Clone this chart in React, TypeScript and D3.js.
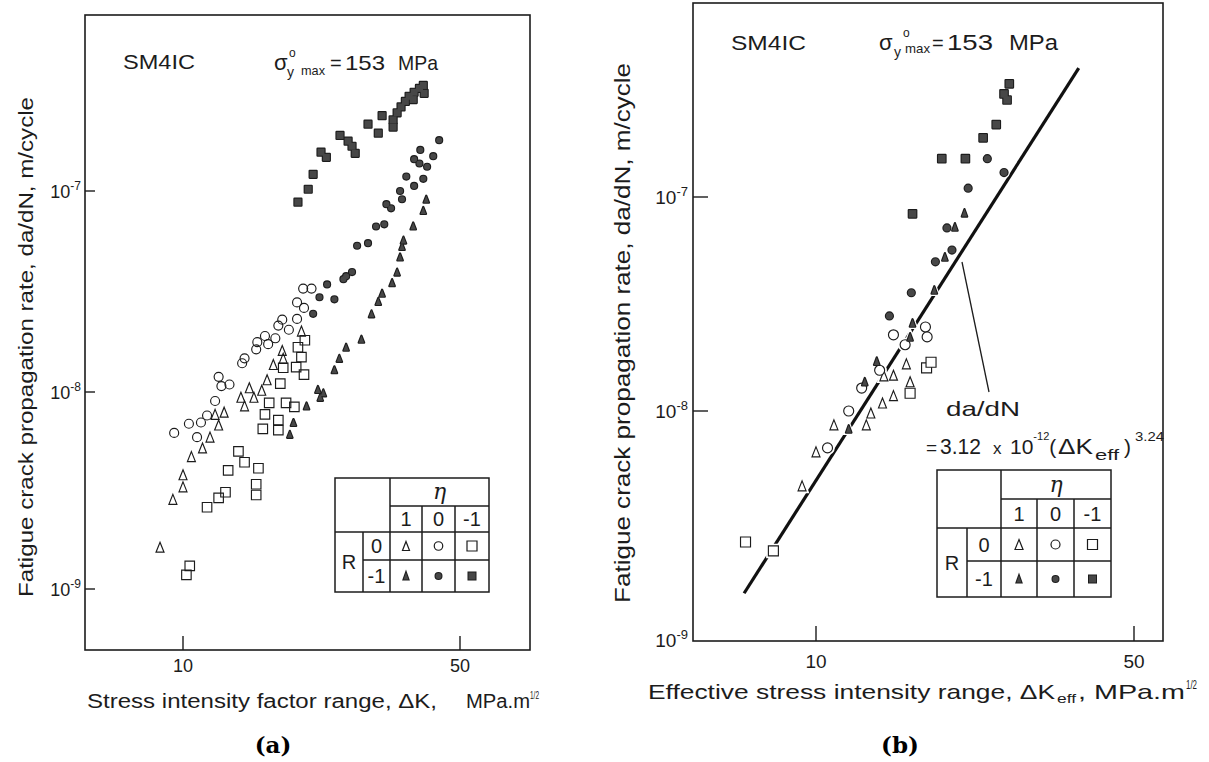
import React from "react";
import * as d3 from "d3";

type Pt = [number, number];

// ---------- Panel (a): ΔK (MPa·m^1/2) vs da/dN (m/cycle) ----------
// η = 1, R = 0
const aOpenTriangles: Pt[] = [
  [19.9, 2.01e-8], [17.8, 1.61e-8], [17.9, 1.47e-8], [16.9, 1.37e-8], [16.3, 1.15e-8],
  [14.7, 1.05e-8], [15.8, 1.02e-8], [15.1, 9.4e-9], [14.0, 9.4e-9], [14.3, 8.5e-9],
  [12.7, 7.9e-9], [12.05, 7.7e-9], [12.3, 6.8e-9], [11.7, 5.9e-9], [11.2, 5.2e-9],
  [10.5, 4.7e-9], [10.0, 3.8e-9], [10.0, 3.3e-9], [9.43, 2.85e-9], [8.75, 1.63e-9],
];
// η = 0, R = 0
const aOpenCircles: Pt[] = [
  [20.1, 3.27e-8], [21.1, 3.27e-8], [19.4, 2.79e-8], [20.2, 2.62e-8], [17.8, 2.29e-8],
  [17.4, 2.14e-8], [19.4, 2.31e-8], [18.5, 2.04e-8], [16.1, 1.9e-8], [17.1, 1.85e-8],
  [15.4, 1.77e-8], [16.4, 1.73e-8], [15.3, 1.63e-8], [14.3, 1.47e-8], [14.1, 1.39e-8],
  [12.3, 1.19e-8], [12.5, 1.07e-8], [13.1, 1.09e-8], [12.05, 9.0e-9], [11.5, 7.6e-9],
  [11.1, 7.0e-9], [10.35, 6.9e-9], [10.85, 5.9e-9], [9.5, 6.2e-9],
];
// η = -1, R = 0
const aOpenSquares: Pt[] = [
  [20.3, 1.81e-8], [19.5, 1.67e-8], [19.9, 1.49e-8], [17.9, 1.32e-8], [19.3, 1.33e-8],
  [20.2, 1.22e-8], [17.6, 1.1e-8], [16.5, 8.8e-9], [18.2, 8.8e-9], [19.1, 8.4e-9],
  [16.1, 7.7e-9], [17.4, 7.2e-9], [15.9, 6.5e-9], [17.4, 6.4e-9], [13.8, 5.0e-9],
  [14.3, 4.4e-9], [13.0, 4.0e-9], [15.5, 4.1e-9], [15.3, 3.4e-9], [15.3, 3.0e-9],
  [12.8, 3.1e-9], [12.3, 2.9e-9], [11.5, 2.6e-9], [10.4, 1.31e-9], [10.2, 1.18e-9],
];
// η = 1, R = -1
const aFilledTriangles: Pt[] = [
  [41.1, 9.1e-8], [40.4, 8.0e-8], [38.1, 6.7e-8], [36.0, 5.7e-8], [35.7, 5.3e-8],
  [35.3, 4.7e-8], [34.7, 3.95e-8], [33.7, 3.5e-8], [31.8, 3.1e-8], [31.1, 2.82e-8],
  [29.9, 2.45e-8], [28.2, 1.83e-8], [25.8, 1.67e-8], [24.8, 1.47e-8], [24.1, 1.29e-8],
  [21.9, 1.03e-8], [22.6, 9.9e-9], [22.2, 9.4e-9], [20.5, 8.5e-9], [19.0, 7.0e-9],
  [18.6, 6.1e-9],
];
// η = 0, R = -1
const aFilledCircles: Pt[] = [
  [44.3, 1.79e-7], [39.7, 1.6e-7], [42.8, 1.49e-7], [38.3, 1.44e-7], [39.5, 1.37e-7],
  [41.3, 1.32e-7], [36.6, 1.18e-7], [40.4, 1.15e-7], [38.3, 1.06e-7], [35.3, 1.0e-7],
  [35.7, 9.1e-8], [32.6, 8.6e-8], [33.5, 8.2e-8], [30.7, 6.66e-8], [32.2, 6.83e-8],
  [27.5, 5.34e-8], [29.3, 5.5e-8], [26.7, 3.95e-8], [25.8, 3.77e-8], [23.1, 3.43e-8],
  [25.4, 3.64e-8], [22.1, 2.96e-8], [24.1, 2.89e-8], [21.3, 2.45e-8],
];
// η = -1, R = -1
const aFilledSquares: Pt[] = [
  [19.5, 8.8e-8], [20.7, 1.02e-7], [21.3, 1.21e-7], [22.3, 1.56e-7], [23.0, 1.47e-7],
  [24.9, 1.89e-7], [26.1, 1.77e-7], [26.7, 1.67e-7], [27.2, 1.54e-7], [29.3, 2.15e-7],
  [31.1, 1.94e-7], [31.8, 2.37e-7], [33.9, 2.08e-7], [33.9, 2.26e-7], [34.7, 2.45e-7],
  [35.5, 2.62e-7], [36.4, 2.79e-7], [37.2, 2.96e-7], [38.3, 3.1e-7], [39.5, 3.24e-7],
  [40.4, 3.35e-7], [40.6, 3.06e-7], [38.1, 2.85e-7],
];

// ---------- Panel (b): ΔKeff (MPa·m^1/2) vs da/dN (m/cycle) ----------
const bOpenTriangles: Pt[] = [
  [15.8, 1.66e-8], [14.8, 1.47e-8], [14.1, 1.46e-8], [16.1, 1.37e-8], [14.8, 1.18e-8],
  [14.0, 1.09e-8], [13.2, 9.8e-9], [12.9, 8.7e-9], [10.95, 8.7e-9], [10.0, 6.63e-9],
  [9.32, 4.71e-9],
];
const bOpenCircles: Pt[] = [
  [17.4, 2.47e-8], [17.55, 2.22e-8], [14.8, 2.27e-8], [15.7, 2.04e-8], [13.8, 1.55e-8],
  [12.6, 1.28e-8], [11.8, 1.0e-8], [10.6, 6.9e-9],
];
const bOpenSquares: Pt[] = [
  [17.5, 1.59e-8], [17.9, 1.69e-8], [16.1, 1.21e-8], [7.0, 2.68e-9], [8.06, 2.45e-9],
];
const bFilledTriangles: Pt[] = [
  [21.2, 8.43e-8], [20.2, 7.25e-8], [19.2, 5.25e-8], [18.2, 3.68e-8], [16.3, 2.58e-8],
  [16.1, 2.22e-8], [13.6, 1.71e-8], [12.8, 1.37e-8], [11.8, 8.35e-9],
];
const bFilledCircles: Pt[] = [
  [23.8, 1.51e-7], [25.9, 1.3e-7], [21.6, 1.1e-7], [19.4, 7.17e-8], [19.9, 5.65e-8],
  [18.3, 4.98e-8], [16.2, 3.57e-8], [14.5, 2.78e-8],
];
const bFilledSquares: Pt[] = [
  [26.6, 3.38e-7], [25.9, 3.03e-7], [26.3, 2.84e-7], [24.9, 2.18e-7], [23.3, 1.89e-7],
  [18.9, 1.51e-7], [21.3, 1.51e-7], [16.3, 8.34e-8],
];
// da/dN = 3.12e-12 (ΔKeff)^3.24, end points of the drawn line
const bFitLine: Pt[] = [[6.95, 1.6e-9], [37.8, 4.0e-7]];

// ---------- Axes / legend labels ----------
const xTickValues = [10, 50];
const yTickValues = [1e-9, 1e-8, 1e-7];
const yTickExponents = ["-9", "-8", "-7"];
const etaLabels = ["1", "0", "-1"];
const rLabels = ["0", "-1"];

const FONT = "'Liberation Sans', 'DejaVu Sans', Arial, sans-serif";
const INK = "#1c1c1c";
const DARK = "#474747";

type Kind = "tri" | "cir" | "sq";
type Size = { w: number; h: number };

function shapePath(kind: Kind, s: Size): string {
  if (kind === "tri") {
    return `M0,${-s.h / 2}L${s.w / 2},${s.h / 2}L${-s.w / 2},${s.h / 2}Z`;
  }
  if (kind === "sq") {
    return `M${-s.w / 2},${-s.h / 2}h${s.w}v${s.h}h${-s.w}Z`;
  }
  const r = s.w / 2;
  return `M${-r},0a${r},${r} 0 1,0 ${2 * r},0a${r},${r} 0 1,0 ${-2 * r},0Z`;
}

type Group = { pts: Pt[]; kind: Kind; filled: boolean; size: Size };

function Halos({ groups, xs, ys }: { groups: Group[]; xs: any; ys: any }) {
  return (
    <g>
      {groups.map((g, gi) =>
        g.pts.map((p, i) => (
          <path
            key={`h${gi}-${i}`}
            d={shapePath(g.kind, g.size)}
            transform={`translate(${xs(p[0])},${ys(p[1])})`}
            fill="#fff"
            stroke="#fff"
            strokeWidth={4.5}
          />
        ))
      )}
    </g>
  );
}

function Markers({ group, xs, ys, openFill }: { group: Group; xs: any; ys: any; openFill: string }) {
  const d = shapePath(group.kind, group.size);
  if (group.filled) {
    return (
      <g>
        {group.pts.map((p, i) => (
          <path key={`o${i}`} d={d} transform={`translate(${xs(p[0])},${ys(p[1])})`}
            fill={INK} stroke={INK} strokeWidth={2.2} strokeLinejoin="round" />
        ))}
        {group.pts.map((p, i) => (
          <path key={`f${i}`} d={d} transform={`translate(${xs(p[0])},${ys(p[1])})`}
            fill={DARK} stroke="none" />
        ))}
      </g>
    );
  }
  return (
    <g>
      {group.pts.map((p, i) => (
        <path key={i} d={d} transform={`translate(${xs(p[0])},${ys(p[1])})`}
          fill={openFill} stroke={INK} strokeWidth={1.15} />
      ))}
    </g>
  );
}

type Frame = { l: number; t: number; r: number; b: number };

function LegendTable({ cols, rows, big }: { cols: number[]; rows: number[]; big: boolean }) {
  const [c0, c1, c2, c3, c4, c5] = cols;
  const [r0, r1, r2, r3, r4] = rows;
  const mid = (a: number, b: number) => (a + b) / 2;
  const fs = 20;
  const symCols = [mid(c2, c3), mid(c3, c4), mid(c4, c5)];
  const kinds: Kind[] = ["tri", "cir", "sq"];
  const openSizes: Size[] = big
    ? [{ w: 8, h: 10 }, { w: 9, h: 9 }, { w: 10, h: 10 }]
    : [{ w: 7, h: 9 }, { w: 8.5, h: 8.5 }, { w: 10, h: 10 }];
  const filledSizes: Size[] = [{ w: 5, h: 7 }, { w: 6, h: 6 }, { w: 7, h: 7 }];
  const lw = 1.5;
  return (
    <g fontFamily={FONT} fill={INK}>
      <rect x={c0} y={r0} width={c5 - c0} height={r4 - r0} fill="#fff" stroke={INK} strokeWidth={lw} />
      <line x1={c2} x2={c5} y1={r1} y2={r1} stroke={INK} strokeWidth={lw} />
      <line x1={c0} x2={c5} y1={r2} y2={r2} stroke={INK} strokeWidth={lw} />
      <line x1={c1} x2={c5} y1={r3} y2={r3} stroke={INK} strokeWidth={lw} />
      <line x1={c1} x2={c1} y1={r2} y2={r4} stroke={INK} strokeWidth={lw} />
      <line x1={c2} x2={c2} y1={r0} y2={r4} stroke={INK} strokeWidth={lw} />
      <line x1={c3} x2={c3} y1={r1} y2={r4} stroke={INK} strokeWidth={lw} />
      <line x1={c4} x2={c4} y1={r1} y2={r4} stroke={INK} strokeWidth={lw} />
      <text x={mid(c2, c5)} y={mid(r0, r1) + 7} fontSize={22} textAnchor="middle"
        fontFamily="'DejaVu Serif', serif" fontStyle="italic">η</text>
      {etaLabels.map((t, i) => (
        <text key={t} x={symCols[i]} y={mid(r1, r2) + 7} fontSize={fs} textAnchor="middle">{t}</text>
      ))}
      <text x={mid(c0, c1)} y={mid(r2, r4) + 7} fontSize={fs} textAnchor="middle">R</text>
      {rLabels.map((t, i) => (
        <text key={t} x={mid(c1, c2)} y={(i === 0 ? mid(r2, r3) : mid(r3, r4)) + 7} fontSize={fs}
          textAnchor="middle">{t}</text>
      ))}
      {kinds.map((k, i) => (
        <path key={`o${k}`} d={shapePath(k, openSizes[i])}
          transform={`translate(${symCols[i]},${mid(r2, r3)})`} fill="none" stroke={INK} strokeWidth={1.2} />
      ))}
      {kinds.map((k, i) => (
        <g key={`f${k}`} transform={`translate(${symCols[i]},${mid(r3, r4)})`}>
          <path d={shapePath(k, filledSizes[i])} fill={INK} stroke={INK} strokeWidth={2} />
          <path d={shapePath(k, filledSizes[i])} fill={DARK} />
        </g>
      ))}
    </g>
  );
}

export default function App() {
  const fA: Frame = { l: 85, t: 15, r: 530, b: 650 };
  const fB: Frame = { l: 693, t: 3, r: 1163, b: 641 };

  const xA = d3.scaleLog().domain([10, 50]).range([183, 460]);
  const yA = d3.scaleLog().domain([1e-9, 1e-8, 1e-7]).range([589, 392, 191]);
  const xB = d3.scaleLog().domain([10, 50]).range([816, 1134]);
  const yB = d3.scaleLog().domain([1e-9, 1e-8, 1e-7]).range([640, 411, 197]);

  const groupsA: Group[] = [
    { pts: aOpenSquares, kind: "sq", filled: false, size: { w: 9.5, h: 9.5 } },
    { pts: aOpenTriangles, kind: "tri", filled: false, size: { w: 8, h: 10 } },
    { pts: aOpenCircles, kind: "cir", filled: false, size: { w: 9, h: 9 } },
    { pts: aFilledTriangles, kind: "tri", filled: true, size: { w: 5.5, h: 7 } },
    { pts: aFilledCircles, kind: "cir", filled: true, size: { w: 6, h: 6 } },
    { pts: aFilledSquares, kind: "sq", filled: true, size: { w: 7, h: 7 } },
  ];
  const groupsB: Group[] = [
    { pts: bOpenSquares, kind: "sq", filled: false, size: { w: 10, h: 10 } },
    { pts: bOpenTriangles, kind: "tri", filled: false, size: { w: 8, h: 10 } },
    { pts: bOpenCircles, kind: "cir", filled: false, size: { w: 10, h: 10 } },
    { pts: bFilledTriangles, kind: "tri", filled: true, size: { w: 5.5, h: 7.5 } },
    { pts: bFilledCircles, kind: "cir", filled: true, size: { w: 7, h: 7 } },
    { pts: bFilledSquares, kind: "sq", filled: true, size: { w: 7.5, h: 7.5 } },
  ];

  const fitPath = d3.line<Pt>().x((d) => xB(d[0])).y((d) => yB(d[1]))(bFitLine) || "";

  const frame = (f: Frame) => (
    <rect x={f.l} y={f.t} width={f.r - f.l} height={f.b - f.t} fill="none" stroke={INK} strokeWidth={1.6} />
  );

  return (
    <div style={{ position: "absolute", left: 0, top: 0 }}>
      <svg width={1209} height={762} viewBox="0 0 1209 762" style={{ display: "block", background: "#fff" }}>
        <rect width={1209} height={762} fill="#fff" />
        {/* ---------------- Panel (a) ---------------- */}
        {frame(fA)}
        <g fontFamily={FONT} fill={INK}>
          {yTickValues.map((v, i) => (
            <g key={`ya${v}`}>
              <line x1={fA.l} x2={fA.l + 10} y1={yA(v)} y2={yA(v)} stroke={INK} strokeWidth={1.4} />
              <text x={fA.l - 4} y={yA(v) + 7} fontSize={18} textAnchor="end">
                10<tspan dy={-8} fontSize={12}>{yTickExponents[i]}</tspan>
              </text>
            </g>
          ))}
          {xTickValues.map((v) => (
            <g key={`xa${v}`}>
              <line x1={xA(v)} x2={xA(v)} y1={fA.b} y2={fA.b - 14} stroke={INK} strokeWidth={1.4} />
              <text x={xA(v)} y={fA.b + 22} fontSize={18} textAnchor="middle">{v}</text>
            </g>
          ))}
          <text x={123} y={69} fontSize={21} textLength={72} lengthAdjust="spacingAndGlyphs">SM4IC</text>
          <text x={274} y={70} fontSize={22}>σ</text>
          <text x={289} y={57} fontSize={12}>o</text>
          <text x={287} y={77} fontSize={14}>y</text>
          <text x={301} y={75} fontSize={13} textLength={24} lengthAdjust="spacingAndGlyphs">max</text>
          <text x={330} y={70} fontSize={20}>=</text>
          <text x={345} y={70} fontSize={21} textLength={40} lengthAdjust="spacingAndGlyphs">153</text>
          <text x={398} y={70} fontSize={21} textLength={40} lengthAdjust="spacingAndGlyphs">MPa</text>

          <text x={87} y={708} fontSize={20} textLength={350} lengthAdjust="spacingAndGlyphs">
            Stress intensity factor range, ΔK,
          </text>
          <text x={466} y={708} fontSize={20} textLength={64} lengthAdjust="spacingAndGlyphs">MPa.m</text>
          <text x={530} y={699} fontSize={11} textLength={9} lengthAdjust="spacingAndGlyphs">1/2</text>

          <text transform="translate(25,347) rotate(-90)" fontSize={21} textAnchor="middle"
            dominantBaseline="central" textLength={500} lengthAdjust="spacingAndGlyphs">
            Fatigue crack propagation rate,  da/dN,  m/cycle
          </text>
        </g>
        {groupsA.map((g, i) => (
          <Markers key={`ga${i}`} group={g} xs={xA} ys={yA} openFill="none" />
        ))}
        <LegendTable cols={[335, 363, 390, 422, 455, 489]} rows={[478, 506, 532, 560, 592]} big={false} />

        {/* ---------------- Panel (b) ---------------- */}
        {frame(fB)}
        <g fontFamily={FONT} fill={INK}>
          {yTickValues.map((v, i) => (
            <g key={`yb${v}`}>
              {i > 0 && <line x1={fB.l} x2={fB.l + 15} y1={yB(v)} y2={yB(v)} stroke={INK} strokeWidth={1.4} />}
              <text x={fB.l - 5} y={yB(v) + 7} fontSize={19} textAnchor="end">
                10<tspan dy={-8} fontSize={13}>{yTickExponents[i]}</tspan>
              </text>
            </g>
          ))}
          {xTickValues.map((v) => (
            <g key={`xb${v}`}>
              <line x1={xB(v)} x2={xB(v)} y1={fB.b} y2={fB.b - 15} stroke={INK} strokeWidth={1.4} />
              <text x={xB(v)} y={fB.b + 27} fontSize={19} textAnchor="middle">{v}</text>
            </g>
          ))}
          <text x={731} y={50} fontSize={21} textLength={75} lengthAdjust="spacingAndGlyphs">SM4IC</text>
          <text x={879} y={50} fontSize={22}>σ</text>
          <text x={903} y={37} fontSize={12}>o</text>
          <text x={894} y={57} fontSize={14}>y</text>
          <text x={905} y={53} fontSize={13} textLength={25} lengthAdjust="spacingAndGlyphs">max</text>
          <text x={932} y={50} fontSize={20}>=</text>
          <text x={947} y={50} fontSize={22} textLength={46} lengthAdjust="spacingAndGlyphs">153</text>
          <text x={1009} y={50} fontSize={22} textLength={49} lengthAdjust="spacingAndGlyphs">MPa</text>

          <text x={648} y={699} fontSize={21} textLength={407} lengthAdjust="spacingAndGlyphs">
            Effective stress intensity range, ΔK
          </text>
          <text x={1057} y={703} fontSize={13} textLength={19} lengthAdjust="spacingAndGlyphs">eff</text>
          <text x={1078} y={699} fontSize={21} textLength={107} lengthAdjust="spacingAndGlyphs">, MPa.m</text>
          <text x={1186} y={689} fontSize={12} textLength={11} lengthAdjust="spacingAndGlyphs">1/2</text>

          <text transform="translate(622,333) rotate(-90)" fontSize={22} textAnchor="middle"
            dominantBaseline="central" textLength={540} lengthAdjust="spacingAndGlyphs">
            Fatigue crack propagation rate,  da/dN,  m/cycle
          </text>

          <text x={946} y={416} fontSize={21} textLength={74} lengthAdjust="spacingAndGlyphs">da/dN</text>
          <text x={926} y={454} fontSize={19}>=</text>
          <text x={940} y={454} fontSize={22} textLength={41} lengthAdjust="spacingAndGlyphs">3.12</text>
          <text x={993} y={454} fontSize={17}>x</text>
          <text x={1010} y={454} fontSize={21}>
            10<tspan dy={-14} fontSize={11}>-12</tspan><tspan dy={14} fontSize={21}>(</tspan>
          </text>
          <text x={1058} y={454} fontSize={22} textLength={35} lengthAdjust="spacingAndGlyphs">ΔK</text>
          <text x={1095} y={460} fontSize={14} textLength={24} lengthAdjust="spacingAndGlyphs">eff</text>
          <text x={1124} y={454} fontSize={21}>)</text>
          <text x={1135} y={441} fontSize={13} textLength={29} lengthAdjust="spacingAndGlyphs">3.24</text>
        </g>
        <path d={fitPath} fill="none" stroke="#111" strokeWidth={3.2} strokeLinecap="butt" />
        <line x1={962} y1={262} x2={989} y2={392} stroke={INK} strokeWidth={1.3} />
        <Halos groups={groupsB} xs={xB} ys={yB} />
        {groupsB.map((g, i) => (
          <Markers key={`gb${i}`} group={g} xs={xB} ys={yB} openFill="#fff" />
        ))}
        <LegendTable cols={[937, 967, 1001, 1037, 1074, 1111]} rows={[470, 499, 528, 561, 597]} big={true} />

        {/* Captions */}
        <text x={273} y={753} fontSize={23} fontWeight="bold" textAnchor="middle"
          fontFamily="'DejaVu Serif', 'Liberation Serif', serif">(a)</text>
        <text x={900} y={753} fontSize={23} fontWeight="bold" textAnchor="middle"
          fontFamily="'DejaVu Serif', 'Liberation Serif', serif">(b)</text>
      </svg>
    </div>
  );
}
